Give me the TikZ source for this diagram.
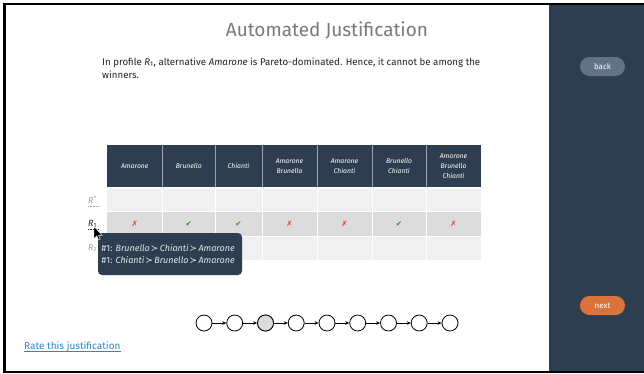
\documentclass[tikz,border=0pt]{standalone}
\usepackage{fontspec}
\setmainfont{Fira Sans}
\newfontfamily\dejavu{DejaVu Sans}
\usetikzlibrary{arrows.meta}
\definecolor{panel}{HTML}{2E3E50}
\definecolor{titlegray}{HTML}{7A7A7A}
\definecolor{bodytext}{HTML}{222222}
\definecolor{rowlight}{HTML}{F0F0F0}
\definecolor{rowdark}{HTML}{DCDCDC}
\definecolor{hdrsep}{HTML}{9AA3AE}
\definecolor{xred}{HTML}{E8302A}
\definecolor{okgreen}{HTML}{2E8B2E}
\definecolor{backbtn}{HTML}{627287}
\definecolor{nextbtn}{HTML}{D9733A}
\definecolor{linkblue}{HTML}{2B86C5}
\definecolor{tiptext}{HTML}{E4E8EC}
\definecolor{lblgray}{HTML}{9A9A9A}
\tikzset{
  hdrtxt/.style={text=white, font=\fontsize{6.8}{9.8}\selectfont\itshape, align=center, inner sep=0pt},
  chainnode/.style={circle, draw=black, line width=0.8pt, minimum size=16pt, inner sep=0pt, fill=white},
  chainarrow/.style={-{Stealth[length=4pt,width=3.5pt]}, line width=0.7pt},
  pill/.style={rounded corners=9.5pt, minimum width=45pt, minimum height=19pt, inner sep=0pt, text=white, font=\fontsize{8}{9}\selectfont},
  markx/.style={text=xred, font=\dejavu\fontsize{7.5}{7}\selectfont, inner sep=0pt},
  markok/.style={text=okgreen, font=\dejavu\fontsize{7.5}{7}\selectfont, inner sep=0pt},
  bodyline/.style={anchor=base west, text=bodytext, font=\fontsize{9.7}{12}\selectfont, inner sep=0pt},
  tipline/.style={anchor=base west, text=tiptext, font=\fontsize{9}{10}\selectfont, inner sep=0pt},
}
\newcommand{\pref}{{\dejavu\upshape\kern1pt≻\kern1.5pt}}
\begin{document}
\begin{tikzpicture}[x=1pt,y=-1pt]
\useasboundingbox (0,0) rectangle (644,373);
% frame
\fill[black] (2.5,2.5) rectangle (644,373);
\fill[white] (5.5,4.5) rectangle (644,370.5);
\fill[panel] (549,4.5) rectangle (644,370.5);

% title and text
\node[text=titlegray, font=\fontsize{19}{22}\selectfont, inner sep=0pt] (title) at (327,30.5) {Automated Justification};
\node[bodyline] (line1) at (102,65)
  {In profile \textit{R}\textsubscript{1}, alternative \textit{Amarone} is Pareto-dominated. Hence, it cannot be among the};
\node[bodyline] (line2) at (102,78.5) {winners.};

% table
\fill[panel] (107,144.5) rectangle (481,187);
\fill[rowlight] (107,187) rectangle (481,211);
\fill[rowdark] (107,211) rectangle (481,236.5);
\fill[rowlight] (107,236.5) rectangle (481,260);
\foreach \x in {162.5,215,262,317,372,426}{
  \draw[hdrsep, line width=0.8pt] (\x,144.5) -- (\x,187);
  \draw[white, line width=1pt] (\x,187) -- (\x,260);
}
\draw[white, line width=1pt] (107,187) -- (481,187);
\draw[white, line width=1pt] (107,211) -- (481,211);
\draw[white, line width=1pt] (107,236.5) -- (481,236.5);

\node[hdrtxt] (h1) at (134.75,166) {Amarone};
\node[hdrtxt] (h2) at (188.75,166) {Brunello};
\node[hdrtxt] (h3) at (238.5,166) {Chianti};
\node[hdrtxt] (h4) at (289.5,166) {Amarone\\Brunello};
\node[hdrtxt] (h5) at (344.5,166) {Amarone\\Chianti};
\node[hdrtxt] (h6) at (399,166) {Brunello\\Chianti};
\node[hdrtxt] (h7) at (453.5,166) {Amarone\\Brunello\\Chianti};

\node[markx]  (m1) at (134.75,224) {✗};
\node[markok] (m2) at (188.75,224) {✔};
\node[markok] (m3) at (238.5,224) {✔};
\node[markx]  (m4) at (289.5,224) {✗};
\node[markx]  (m5) at (344.5,224) {✗};
\node[markok] (m6) at (399,224) {✔};
\node[markx]  (m7) at (453.5,224) {✗};

% row labels
\node[anchor=base west, text=lblgray, font=\fontsize{8.5}{10}\selectfont\itshape, inner sep=0pt] (rs) at (88,203) {R\textsuperscript{*}};
\draw[lblgray, line width=0.5pt, dash pattern=on 1pt off 0.6pt] (88,206) -- (98,206);
\node[anchor=base west, text=bodytext, font=\fontsize{9}{10}\selectfont, inner sep=0pt] (r1) at (88,226) {\textit{R}\textsubscript{1}};
\draw[bodytext, line width=0.5pt, dash pattern=on 1pt off 0.6pt] (88,229.5) -- (99,229.5);
\node[anchor=base west, text=lblgray, font=\fontsize{8.5}{10}\selectfont, inner sep=0pt] (r2) at (88,250) {\textit{R}\textsubscript{2}};

% tooltip
\fill[panel, rounded corners=4pt] (98,233) rectangle (242,275);
\node[tipline] (t1) at (101.5,251)
  {\#1: \textit{Brunello}\pref\textit{Chianti}\pref\textit{Amarone}};
\node[tipline] (t2) at (101.5,263.5)
  {\#1: \textit{Chianti}\pref\textit{Brunello}\pref\textit{Amarone}};

% mouse cursor
\filldraw[fill=black, draw=white, line width=0.4pt, line join=round]
  (94,226.5) -- (94,238.5) -- (96.8,235.8) -- (98.6,240) -- (100.2,239.3) -- (98.5,235.3) -- (102.3,235.3) -- cycle;

% chain
\foreach \i/\x in {1/204,2/234.7,3/265.5,4/296.2,5/327,6/357.7,7/388.5,8/419.2,9/450}{
  \node[chainnode] (c\i) at (\x,323) {};
}
\node[chainnode, fill=rowdark] at (c3) {};
\foreach \a/\b in {1/2,2/3,3/4,4/5,5/6,6/7,7/8,8/9}{
  \draw[chainarrow] (c\a) -- (c\b);
}

% buttons
\node[pill, fill=backbtn] (back) at (602.5,66.5) {back};
\node[pill, fill=nextbtn] (next) at (602.5,305.5) {next};

% link
\node[anchor=base west, text=linkblue, font=\fontsize{10}{12}\selectfont, inner sep=0pt] (rate) at (24,349) {Rate this justification};
\draw[linkblue, line width=0.6pt] ([yshift=-2pt]rate.base west) -- ([yshift=-2pt]rate.base east);
\end{tikzpicture}
\end{document}
